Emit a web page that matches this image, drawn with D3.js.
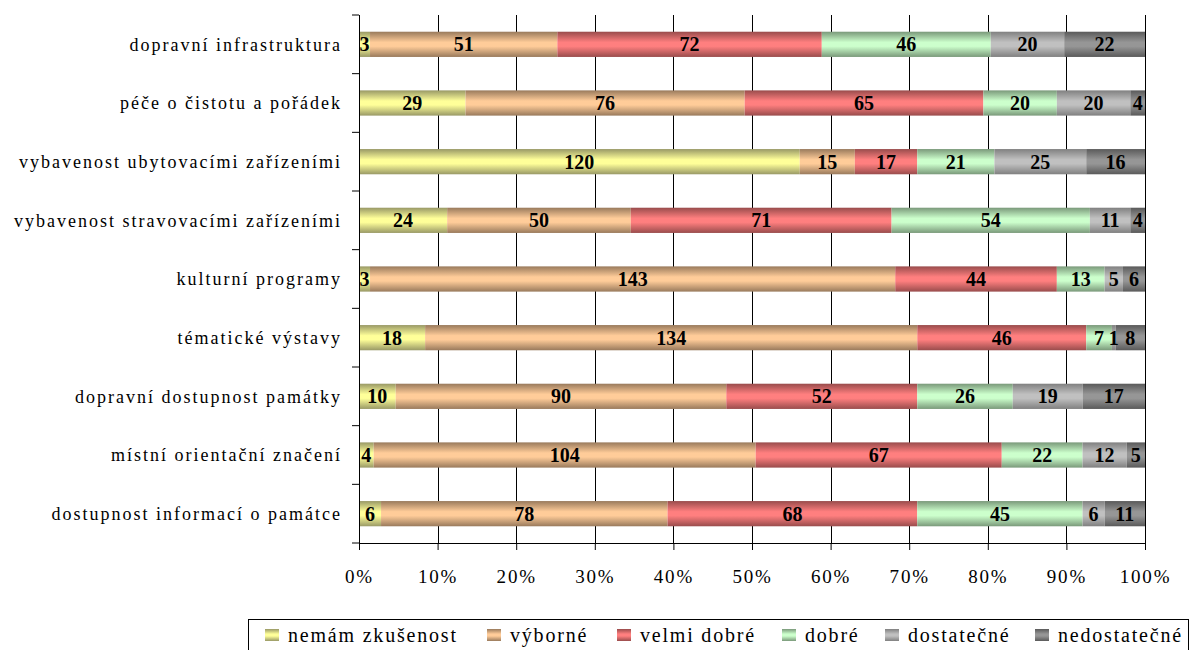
<!DOCTYPE html>
<html>
<head>
<meta charset="utf-8">
<script src="https://cdn.jsdelivr.net/npm/d3@7"></script>
<style>
  body { margin: 0; background: #fff; }
  svg text { font-family: "Liberation Serif", "DejaVu Serif", serif; }
</style>
</head>
<body>
<div id="chart"></div>
<script>
// chart data
var categories = [
  "dopravní infrastruktura",
  "péče o čistotu a pořádek",
  "vybavenost ubytovacími zařízeními",
  "vybavenost stravovacími zařízeními",
  "kulturní programy",
  "tématické výstavy",
  "dopravní dostupnost památky",
  "místní orientační značení",
  "dostupnost informací o památce"
];
var seriesNames = ["nemám zkušenost", "výborné", "velmi dobré", "dobré", "dostatečné", "nedostatečné"];
var nemam      = [3, 29, 120, 24, 3, 18, 10, 4, 6];
var vyborne    = [51, 76, 15, 50, 143, 134, 90, 104, 78];
var velmiDobre = [72, 65, 17, 71, 44, 46, 52, 67, 68];
var dobre      = [46, 20, 21, 54, 13, 7, 26, 22, 45];
var dostatecne = [20, 20, 25, 11, 5, 1, 19, 12, 6];
var nedostatecne = [22, 4, 16, 4, 6, 8, 17, 5, 11];
var tickValues = [0, 0.1, 0.2, 0.3, 0.4, 0.5, 0.6, 0.7, 0.8, 0.9, 1];

// colours: [middle, edge]
var colors = [
  ["#ffff99", "#999966"],
  ["#ffcc99", "#997a5c"],
  ["#ff7f7f", "#994c4c"],
  ["#ccffcc", "#7a997a"],
  ["#c0c0c0", "#808080"],
  ["#969696", "#5a5a5a"]
];

var serif = "'Liberation Serif', 'DejaVu Serif', serif";

var svgWidth = 1191, svgHeight = 650;
var margin = {top: 15, right: 46, bottom: 107, left: 359};
var width = svgWidth - margin.left - margin.right;
var height = svgHeight - margin.top - margin.bottom;

var svg = d3.select("#chart").append("svg")
  .attr("width", svgWidth)
  .attr("height", svgHeight);

var defs = svg.append("defs");
colors.forEach(function(c, i) {
  var g = defs.append("linearGradient")
    .attr("id", "grad" + i)
    .attr("x1", 0).attr("y1", 0).attr("x2", 0).attr("y2", 1);
  g.append("stop").attr("offset", "0%").attr("stop-color", c[1]);
  g.append("stop").attr("offset", "42%").attr("stop-color", c[0]);
  g.append("stop").attr("offset", "58%").attr("stop-color", c[0]);
  g.append("stop").attr("offset", "100%").attr("stop-color", c[1]);
});

var chartGroup = svg.append("g")
  .attr("transform", `translate(${margin.left}, ${margin.top})`);

// build rows
var allSeries = [nemam, vyborne, velmiDobre, dobre, dostatecne, nedostatecne];
var rows = categories.map(function(cat, i) {
  var row = {cat: cat};
  seriesNames.forEach(function(s, j) { row[s] = allSeries[j][i]; });
  return row;
});
var stacked = d3.stack().keys(seriesNames).offset(d3.stackOffsetExpand)(rows);

var xScale = d3.scaleLinear().domain([0, 1]).range([0, width]);
var yScale = d3.scaleBand().domain(categories).range([0, height]).paddingInner(0.57).paddingOuter(0.285);
var bandScale = d3.scaleBand().domain(categories).range([0, height]);

// vertical grid lines
chartGroup.append("g")
  .selectAll("line")
  .data(tickValues)
  .enter()
  .append("line")
  .attr("x1", d => Math.round(xScale(d)) + 0.5)
  .attr("x2", d => Math.round(xScale(d)) + 0.5)
  .attr("y1", 0)
  .attr("y2", height)
  .attr("stroke", "#000")
  .attr("stroke-width", 1);

// bars
var layers = chartGroup.selectAll(".layer")
  .data(stacked)
  .enter()
  .append("g")
  .attr("fill", (d, i) => `url(#grad${i})`);

layers.selectAll("rect")
  .data(d => d)
  .enter()
  .append("rect")
  .attr("x", d => xScale(d[0]))
  .attr("y", d => yScale(d.data.cat))
  .attr("width", d => xScale(d[1]) - xScale(d[0]))
  .attr("height", yScale.bandwidth());

// value labels
stacked.forEach(function(layer) {
  chartGroup.append("g")
    .selectAll("text")
    .data(layer)
    .enter()
    .append("text")
    .attr("x", d => (xScale(d[0]) + xScale(d[1])) / 2)
    .attr("y", d => yScale(d.data.cat) + yScale.bandwidth() / 2)
    .attr("dy", "0.35em")
    .attr("text-anchor", "middle")
    .style("font-family", serif)
    .style("font-size", "20px")
    .style("font-weight", "bold")
    .text(d => d.data[layer.key]);
});

// x axis
var bottomAxis = d3.axisBottom(xScale)
  .tickValues(tickValues)
  .tickFormat(d3.format(".0%"))
  .tickSize(7)
  .tickSizeOuter(0);
var xAxis = chartGroup.append("g")
  .attr("transform", `translate(0, ${height})`)
  .call(bottomAxis);
xAxis.select(".domain").attr("stroke", "#000");
xAxis.selectAll("line").attr("stroke", "#000");
xAxis.selectAll("text")
  .attr("y", 33)
  .attr("dy", "0.35em")
  .style("font-size", "19px")
  .style("font-family", serif)
  .style("letter-spacing", "1.8px")
  .attr("fill", "#000");

// y axis line with ticks at band boundaries
chartGroup.append("line")
  .attr("x1", 0.5).attr("x2", 0.5).attr("y1", 0).attr("y2", height)
  .attr("stroke", "#000");
chartGroup.append("g")
  .selectAll("line")
  .data(categories)
  .enter()
  .append("line")
  .attr("x1", -7).attr("x2", 0)
  .attr("y1", d => bandScale(d) + bandScale.bandwidth())
  .attr("y2", d => bandScale(d) + bandScale.bandwidth())
  .attr("stroke", "#000");
chartGroup.append("line")
  .attr("x1", -7).attr("x2", 0).attr("y1", 0).attr("y2", 0)
  .attr("stroke", "#000");

// category labels
chartGroup.append("g")
  .selectAll("text")
  .data(categories)
  .enter()
  .append("text")
  .attr("x", -17)
  .attr("y", d => bandScale(d) + bandScale.bandwidth() / 2)
  .attr("dy", "0.35em")
  .attr("text-anchor", "end")
  .style("font-family", serif)
  .style("font-size", "18px")
  .style("letter-spacing", "2px")
  .text(d => d);

// legend
var legend = svg.append("g");
legend.append("rect")
  .attr("x", 248.5).attr("y", 619.5)
  .attr("width", 940).attr("height", 40)
  .attr("fill", "#fff").attr("stroke", "#000");
var legendX = [265, 487, 617, 782, 885, 1035];
seriesNames.forEach(function(name, i) {
  legend.append("rect")
    .attr("x", legendX[i]).attr("y", 629)
    .attr("width", 14).attr("height", 12)
    .attr("fill", `url(#grad${i})`);
  legend.append("text")
    .attr("x", legendX[i] + 23).attr("y", 635)
    .attr("dy", "0.35em")
    .style("font-family", serif)
    .style("font-size", "20px")
    .style("letter-spacing", "1.8px")
    .text(name);
});
</script>
</body>
</html>
